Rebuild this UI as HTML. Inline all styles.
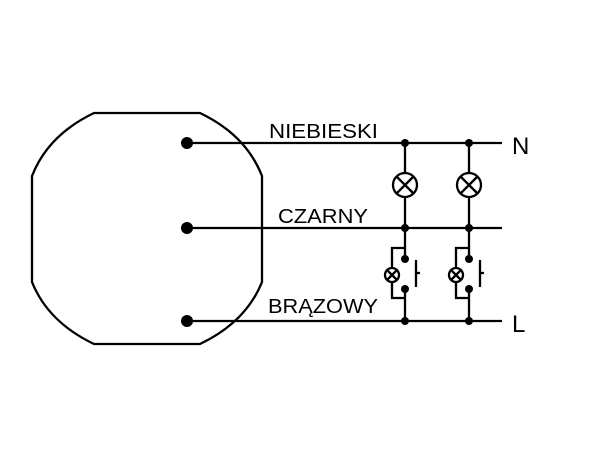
<!DOCTYPE html>
<html><head><style>body{margin:0;background:#fff}svg{display:block}</style></head><body>
<svg width="600" height="450" viewBox="0 0 600 450" xmlns="http://www.w3.org/2000/svg">
<rect width="600" height="450" fill="#fff"/>
<g fill="none" stroke="#000" stroke-width="2.3">
<path d="M94,113 L200,113 Q246,135 262,176 L262,282 Q246,322 200,344 L94,344 Q48,322 32,282 L32,176 Q48,135 94,113 Z"/>
<line x1="187" y1="143" x2="502" y2="143"/>
<line x1="187" y1="228" x2="502" y2="228"/>
<line x1="187" y1="321" x2="502" y2="321"/>
</g>
<g fill="#000"><circle cx="187" cy="143" r="6"/><circle cx="187" cy="228" r="6"/><circle cx="187" cy="321" r="6"/></g>
<defs>
<g id="col">
<g fill="none" stroke="#000" stroke-width="2.3">
<line x1="0" y1="143" x2="0" y2="173"/>
<circle cx="0" cy="185" r="12"/>
<line x1="-8.5" y1="176.5" x2="8.5" y2="193.5"/><line x1="-8.5" y1="193.5" x2="8.5" y2="176.5"/>
<line x1="0" y1="197" x2="0" y2="259"/>
<polyline points="0,248 -13,248 -13,268"/>
<polyline points="-13,282 -13,298 0,298"/>
<circle cx="-13" cy="275" r="7"/>
<line x1="-18" y1="270" x2="-8" y2="280"/><line x1="-18" y1="280" x2="-8" y2="270"/>
<line x1="0" y1="289" x2="0" y2="321"/>
<line x1="11" y1="260" x2="11" y2="287"/>
<line x1="11" y1="273" x2="15" y2="273"/>
</g>
<g fill="#000"><circle cx="0" cy="143" r="4"/><circle cx="0" cy="228" r="4"/><circle cx="0" cy="321" r="4"/><circle cx="0" cy="259" r="4"/><circle cx="0" cy="289" r="4"/></g>
</g>
</defs>
<use href="#col" x="405"/>
<use href="#col" x="469"/>
<g font-family="Liberation Sans, sans-serif" font-size="20" fill="#000">
<text x="269" y="138" textLength="109" lengthAdjust="spacingAndGlyphs">NIEBIESKI</text>
<text x="278" y="223" textLength="90" lengthAdjust="spacingAndGlyphs">CZARNY</text>
<text x="268" y="313" textLength="110" lengthAdjust="spacingAndGlyphs">BRĄZOWY</text>
<text x="512" y="154" font-size="24">N</text>
<text x="512" y="332" font-size="24">L</text>
</g>
</svg>
</body></html>
